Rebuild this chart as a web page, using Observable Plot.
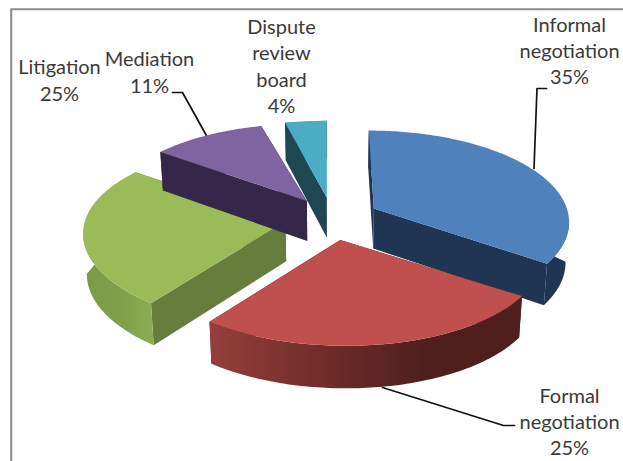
<!DOCTYPE html>
<html>
<head>
<meta charset="utf-8">
<script src="https://cdn.jsdelivr.net/npm/d3@7"></script>
<script src="https://cdn.jsdelivr.net/npm/@observablehq/plot@0.6"></script>
<style>html,body{margin:0;padding:0;background:#fff}svg{display:block}</style>
</head>
<body>
<div id="chart"></div>
<script>
// Data
const categories = ["Informal negotiation", "Formal negotiation", "Litigation", "Mediation", "Dispute review board"];
const shares = [35, 25, 25, 11, 4];
const labelLines = ["Informal\nnegotiation\n35%", "Formal\nnegotiation\n25%", "Litigation\n25%", "Mediation\n11%", "Dispute\nreview\nboard\n4%"];
const topColors = ["#4f81bd", "#c0504d", "#9bbb59", "#8064a2", "#4bacc6"];
const faceColors = ["#1f3552", "#4f1f1e", "#667d3b", "#35274a", "#1f4753"];

// Layout of the page
const W = 623, H = 461;
const labelX = [569, 569, 59, 149, 281];
const labelY = [49, 420, 78.5, 70.5, 64.5];
const leaderX = [[533.5, 536.5, 546], [382, 503, 514], [], [207, 182, 172], []];
const leaderY = [[168, 88, 88], [387, 425, 425], [], [137, 92, 92], []];
const frameX = 10.7, frameY = 8.8;
const lean = [0, 6, 5, 4, 0];
const shiftX = [5, 0, 3, 0, 0];
const shiftY = [3, 2, 2, 2, 2];

// Tilted disc with perspective
const cx = 332, cy = 217.5, rx = 197, ry = 88.5, persp = 0.18, explode = 0.24;
const homography = (X, Y) => {
  const p = 1 / (1 + persp * Y);
  return [rx * X * p, -ry * Y * p];
};

const total = d3.sum(shares);
const cum = d3.cumsum(shares);
const rad = d => d / total * 2 * Math.PI;

const tops = [], faces = [], rims = [];
categories.forEach((name, i) => {
  const a0 = rad(cum[i] - shares[i]), a1 = rad(cum[i]), am = (a0 + a1) / 2;
  const [ox, oy] = homography(explode * Math.sin(am), explode * Math.cos(am));
  const apex = {X: cx + ox, Y: cy + oy, v: 0};
  const n = Math.max(8, Math.round((a1 - a0) / (Math.PI / 180)));
  const arc = d3.range(n + 1).map(k => a0 + (a1 - a0) * k / n).map(a => {
    const [hx, hy] = homography(Math.sin(a), Math.cos(a));
    return {X: apex.X + hx - shiftX[i] - lean[i] * Math.cos(a), Y: apex.Y + hy - shiftY[i], v: Math.cos(a)};
  });
  const top = d => [d.X, d.Y];
  const bottom = d => [cx + (d.X - cx) * 0.985, d.Y + 40 - 2.5 * d.v];

  // top face
  [apex, ...arc].map(top).forEach(([x, y]) => tops.push({name, x, y}));

  // flat cut faces
  [arc[0], arc[n]].forEach((w, j) => {
    const id = name + j;
    [top(apex), top(w), bottom(w), bottom(apex)]
      .forEach(([x, y]) => faces.push({id, name, x, y}));
  });

  // curved side, only where it faces the viewer
  const front = arc.filter((w, k) => {
    const prev = k > 0 ? arc[k - 1].X : Infinity;
    const next = k < n ? arc[k + 1].X : -Infinity;
    return w.X < prev || next < w.X;
  });
  if (front.length > 1) {
    [...front.map(top), ...front.slice().reverse().map(bottom)]
      .forEach(([x, y]) => rims.push({name, x, y}));
  }
});

const byName = (arr, name) => arr.filter(d => d.name === name);

const gradient = (id, stops) =>
  `<linearGradient id="${id}" x1="0" x2="1" y1="0" y2="0">` +
  stops.map(([o, c]) => `<stop offset="${o}" stop-color="${c}"/>`).join("") +
  `</linearGradient>`;
const rimFills = ["#1f3552", "url(#rimRed)", "url(#rimGreen)", "#35274a", "#1f4753"];

const defsMark = () => {
  const g = document.createElementNS("http://www.w3.org/2000/svg", "defs");
  g.innerHTML =
    gradient("rimRed", [[0, "#953f3b"], [0.4, "#6c2b28"], [0.68, "#4f1f1e"], [1, "#4f1f1e"]]) +
    gradient("rimGreen", [[0, "#7c9a46"], [0.55, "#80a04a"], [1, "#8cae52"]]);
  return g;
};

const leaders = categories.flatMap((name, i) =>
  leaderX[i].map((x, k) => ({name, x, y: leaderY[i][k]})));

const plot = Plot.plot({
  width: W, height: H,
  margin: 0,
  x: {domain: [0, W], range: [0, W], axis: null},
  y: {domain: [0, H], range: [0, H], axis: null},
  marks: [
    defsMark,
    Plot.ruleX([frameX], {y1: frameY, y2: H, stroke: "#8c8c8c", strokeWidth: 2}),
    Plot.ruleY([frameY], {x1: frameX, x2: W, stroke: "#8c8c8c", strokeWidth: 2}),
    Plot.line(leaders, {x: "x", y: "y", z: "name", stroke: "#111", strokeWidth: 1.7}),
    ...categories.flatMap((name, i) => [
      Plot.line(byName(faces, name), {x: "x", y: "y", z: "id", fill: faceColors[i], stroke: "none"}),
      Plot.line(byName(rims, name), {x: "x", y: "y", fill: rimFills[i], stroke: "none"}),
      Plot.line(byName(tops, name), {x: "x", y: "y", fill: topColors[i], stroke: "none"})
    ]),
    Plot.text(categories.map((c, i) => i), {
      x: i => labelX[i], y: i => labelY[i], text: i => labelLines[i],
      fontFamily: "Lato", fontSize: 20, lineHeight: 1.32, fill: "#3a3a3a",
      textAnchor: "middle", frameAnchor: "middle"
    })
  ]
});
document.getElementById("chart").append(plot);
</script>
</body>
</html>
